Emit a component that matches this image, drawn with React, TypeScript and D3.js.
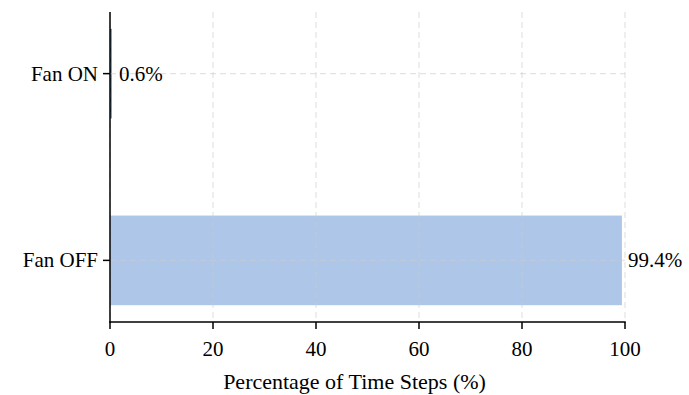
import React, { useEffect, useRef } from "react";
import * as d3 from "d3";

const categories = ["Fan OFF", "Fan ON"];
const values = [99.4, 0.6];
const valueLabels = ["99.4%", "0.6%"];
const barColors = ["#aec7e8", "#2a5f8f"];
const xTicks = [0, 20, 40, 60, 80, 100];
const xLabel = "Percentage of Time Steps (%)";

const W = 689;
const H = 395;
const FONT = `"Liberation Serif", "FreeSerif", "Times New Roman", "Tinos", serif`;

export default function App() {
  const ref = useRef<SVGSVGElement>(null);
  const left = 110;
  const right = 625;
  const top = 12;
  const bottom = 322;
  const x = d3.scaleLinear().domain([0, 100]).range([left, right]);
  const y = d3.scaleLinear().domain([-0.33, 1.33]).range([bottom, top]);
  const barH = 0.48;

  useEffect(() => {
    const svg = d3.select(ref.current);
    svg.selectAll("*").remove();
    svg.append("rect").attr("width", W).attr("height", H).attr("fill", "#fff");
    categories.forEach((c, i) => {
      svg.append("rect")
        .attr("x", x(0))
        .attr("y", y(i + barH / 2))
        .attr("width", Math.max(0, x(values[i]) - x(0) - (i === 1 ? 1.5 : 0)))
        .attr("height", y(i - barH / 2) - y(i + barH / 2))
        .attr("fill", barColors[i]);
    });
    const grid = (x1: number, x2: number, y1: number, y2: number) =>
      svg.append("line").attr("x1", x1).attr("x2", x2).attr("y1", y1).attr("y2", y2)
        .attr("stroke", "#cccccc").attr("stroke-opacity", 0.55)
        .attr("stroke-width", 1.2).attr("stroke-dasharray", "6,4");
    xTicks.forEach((t) => grid(x(t), x(t), top, bottom));
    categories.forEach((c, i) => grid(left, right, y(i), y(i)));
    svg.append("line").attr("x1", left).attr("x2", left).attr("y1", top).attr("y2", bottom + 0.75)
      .attr("stroke", "#000").attr("stroke-width", 1.5);
    svg.append("line").attr("x1", left - 0.75).attr("x2", right + 0.75).attr("y1", bottom).attr("y2", bottom)
      .attr("stroke", "#000").attr("stroke-width", 1.5);
    const text = (tx: number, ty: number, s: string, anchor: string, size: number) =>
      svg.append("text").attr("x", tx).attr("y", ty).attr("text-anchor", anchor)
        .attr("font-family", FONT).style("font-family", FONT)
        .attr("font-size", size).attr("fill", "#000").text(s);
    xTicks.forEach((t) => {
      svg.append("line").attr("x1", x(t)).attr("x2", x(t)).attr("y1", bottom).attr("y2", bottom + 7)
        .attr("stroke", "#000").attr("stroke-width", 1.5);
      text(x(t), bottom + 34, String(t), "middle", 21);
    });
    categories.forEach((c, i) => {
      svg.append("line").attr("x1", left - 7).attr("x2", left).attr("y1", y(i)).attr("y2", y(i))
        .attr("stroke", "#000").attr("stroke-width", 1.5);
      text(left - 12, y(i) + 7, c, "end", 21);
      text(x(values[i]) + 6, y(i) + 7, valueLabels[i], "start", 21);
    });
    text((left + right) / 2 - 13, 389, xLabel, "middle", 22);
  }, []);

  return (
    <svg ref={ref} width={W} height={H} style={{ position: "absolute", left: 0, top: 0, fontFamily: FONT }} />
  );
}
